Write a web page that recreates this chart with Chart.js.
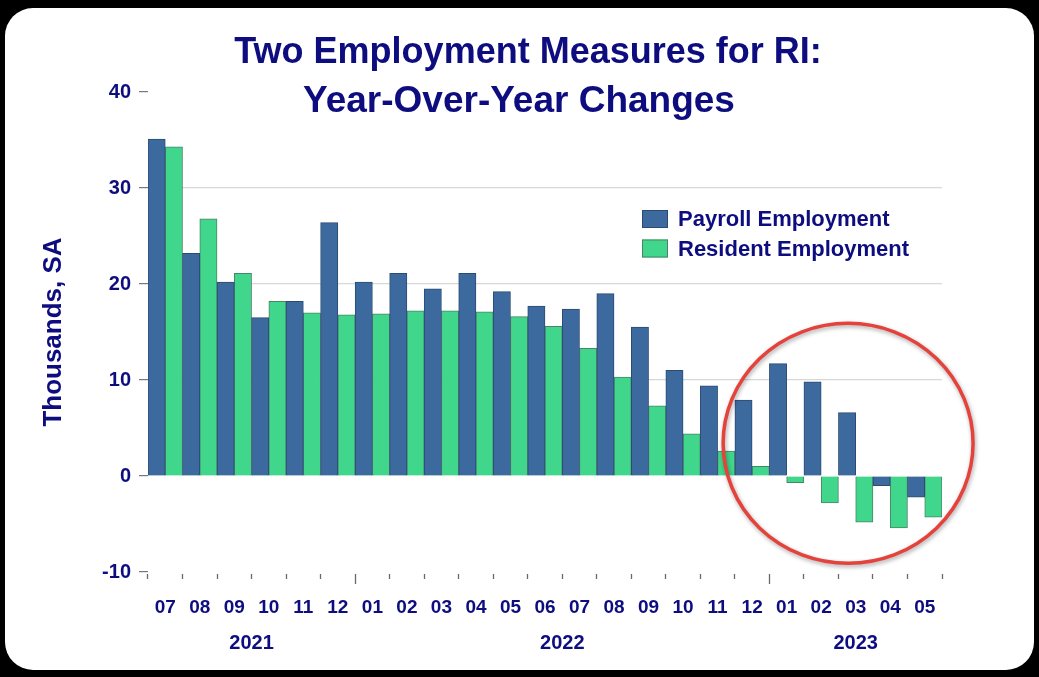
<!DOCTYPE html>
<html>
<head>
<meta charset="utf-8">
<script src="https://cdn.jsdelivr.net/npm/chart.js@4.4.1/dist/chart.umd.min.js"></script>
<style>
  html, body { margin: 0; padding: 0; background: #000; }
  #c { display: block; }
</style>
</head>
<body>
<canvas id="c" width="1039" height="677"></canvas>
<script>
// ---- Data ----
const titleLines = ['Two Employment Measures for RI:', 'Year-Over-Year Changes'];
const yAxisTitle = 'Thousands, SA';
const months = ['07','08','09','10','11','12','01','02','03','04','05','06','07','08','09','10','11','12','01','02','03','04','05'];
const years = ['2021', '2022', '2023'];
const payrollLabel = 'Payroll Employment';
const residentLabel = 'Resident Employment';
const payroll = [35.1, 23.2, 20.2, 16.5, 18.2, 26.4, 20.2, 21.1, 19.5, 21.1, 19.2, 17.7, 17.4, 19.0, 15.5, 11.0, 9.4, 7.9, 11.7, 9.8, 6.6, -1.0, -2.2];
const resident = [34.3, 26.8, 21.1, 18.2, 17.0, 16.8, 16.9, 17.2, 17.2, 17.1, 16.6, 15.6, 13.3, 10.3, 7.3, 4.4, 2.6, 1.0, -0.7, -2.8, -4.8, -5.4, -4.3];
const yMin = -10, yMax = 40, yStep = 10;
const gridValues = [10, 20, 30];
// highlighted region (in data units): category-index centre, value centre, half-widths
const highlight = { x: 19.78, y: 3.4, rx: 3.62, ry: 12.5 };

// ---- Styles ----
const NAVY = '#0d0d80';
const FONT = '"Liberation Sans", Arial, Helvetica, sans-serif';
const BLUE = '#3c6a9e';
const BLUE_B = '#2b4c72';
const GREEN = '#40d68b';
const GREEN_B = '#4a8466';

// year group boundaries derived from month labels ('01' starts a new year)
function yearGroups() {
  const groups = [];
  let start = 0;
  for (let i = 1; i < months.length; i++) {
    if (months[i] === '01') { groups.push([start, i - 1]); start = i; }
  }
  groups.push([start, months.length - 1]);
  return groups;
}
const yearStarts = yearGroups().map(g => g[0]);

const decorPlugin = {
  id: 'decor',
  beforeDraw(chart) {
    const ctx = chart.ctx;
    const W = chart.width, H = chart.height;
    ctx.save();
    ctx.fillStyle = '#000';
    ctx.fillRect(0, 0, W, H);
    ctx.fillStyle = '#fff';
    ctx.beginPath();
    ctx.roundRect(5, 8, 1029, 662, 28);
    ctx.fill();
    // title
    ctx.fillStyle = NAVY;
    ctx.textAlign = 'center';
    ctx.textBaseline = 'alphabetic';
    ctx.font = 'bold 36px ' + FONT;
    ctx.fillText(titleLines[0], 528, 63);
    ctx.font = 'bold 37px ' + FONT;
    ctx.fillText(titleLines[1], 519, 112);
    ctx.restore();
  },
  afterDatasetsDraw(chart) {
    const ctx = chart.ctx;
    const xs = chart.scales.x, ys = chart.scales.y;
    // legend
    ctx.save();
    const items = chart.data.datasets;
    ctx.font = 'bold 22px ' + FONT;
    ctx.textBaseline = 'middle';
    ctx.textAlign = 'left';
    items.forEach((ds, i) => {
      const y0 = 210 + i * 29.5;
      ctx.fillStyle = ds.backgroundColor;
      ctx.fillRect(642, y0, 26, 18);
      ctx.strokeStyle = ds.borderColor;
      ctx.lineWidth = 1;
      ctx.strokeRect(642.5, y0 + 0.5, 25, 17);
      ctx.fillStyle = NAVY;
      ctx.fillText(ds.label, 678, y0 + 10);
    });
    // highlight ellipse
    const cx = xs.getPixelForValue(highlight.x);
    const cy = ys.getPixelForValue(highlight.y);
    const rx = Math.abs(xs.getPixelForValue(highlight.x + highlight.rx) - cx);
    const ry = Math.abs(ys.getPixelForValue(highlight.y + highlight.ry) - cy);
    ctx.shadowColor = 'rgba(0,0,0,0.35)';
    ctx.shadowBlur = 4;
    ctx.shadowOffsetX = 1;
    ctx.shadowOffsetY = 2;
    ctx.strokeStyle = '#e5423b';
    ctx.lineWidth = 3.5;
    ctx.beginPath();
    ctx.ellipse(cx, cy, rx, ry, 0, 0, Math.PI * 2);
    ctx.stroke();
    ctx.restore();
  },
  afterDraw(chart) {
    const ctx = chart.ctx;
    const xs = chart.scales.x;
    ctx.save();
    ctx.fillStyle = NAVY;
    ctx.font = 'bold 20px ' + FONT;
    ctx.textAlign = 'center';
    ctx.textBaseline = 'middle';
    yearGroups().forEach((g, i) => {
      const x = (xs.getPixelForValue(g[0]) + xs.getPixelForValue(g[1])) / 2;
      ctx.fillText(years[i], x, 643);
    });
    ctx.restore();
  }
};

new Chart(document.getElementById('c'), {
  type: 'bar',
  data: {
    labels: months,
    datasets: [
      { label: payrollLabel, data: payroll, backgroundColor: BLUE, borderColor: BLUE_B, borderWidth: 1 },
      { label: residentLabel, data: resident, backgroundColor: GREEN, borderColor: GREEN_B, borderWidth: 1 }
    ]
  },
  options: {
    responsive: false,
    animation: false,
    layout: { padding: { left: 30, right: 97, top: 92, bottom: 0 } },
    datasets: { bar: { categoryPercentage: 1.0, barPercentage: 1.0 } },
    plugins: {
      legend: { display: false },
      tooltip: { enabled: false },
      title: { display: false }
    },
    scales: {
      x: {
        afterFit(scale) { scale.height = 105; },
        border: { display: false },
        grid: {
          display: true,
          drawOnChartArea: false,
          offset: true,
          drawTicks: true,
          tickLength: 12,
          tickWidth: 1.3,
          tickColor: '#6a6a6a',
          tickBorderDash(c) {
            const major = yearStarts.includes(c.index) && c.index > 0;
            return major ? [0, 2, 10, 100] : [0, 2, 5, 100];
          }
        },
        ticks: {
          color: NAVY,
          font: { family: FONT, size: 19, weight: 'bold' },
          padding: 12,
          maxRotation: 0,
          autoSkip: false
        }
      },
      y: {
        min: yMin,
        max: yMax,
        z: 1,
        afterFit(scale) { scale.width = 118; },
        border: { display: false },
        grid: {
          color(c) { return c.tick && gridValues.includes(c.tick.value) ? 'rgba(140,140,140,0.35)' : 'rgba(0,0,0,0)'; },
          lineWidth: 1.2,
          drawTicks: true,
          tickLength: 9,
          tickColor: '#777',
          tickWidth: 1.2
        },
        ticks: {
          stepSize: yStep,
          color: NAVY,
          font: { family: FONT, size: 20, weight: 'bold' },
          padding: 8
        },
        title: {
          display: true,
          text: yAxisTitle,
          color: NAVY,
          font: { family: FONT, size: 26, weight: 'bold' },
          padding: { top: 8, bottom: 0 }
        }
      }
    }
  },
  plugins: [decorPlugin]
});
</script>
</body>
</html>
